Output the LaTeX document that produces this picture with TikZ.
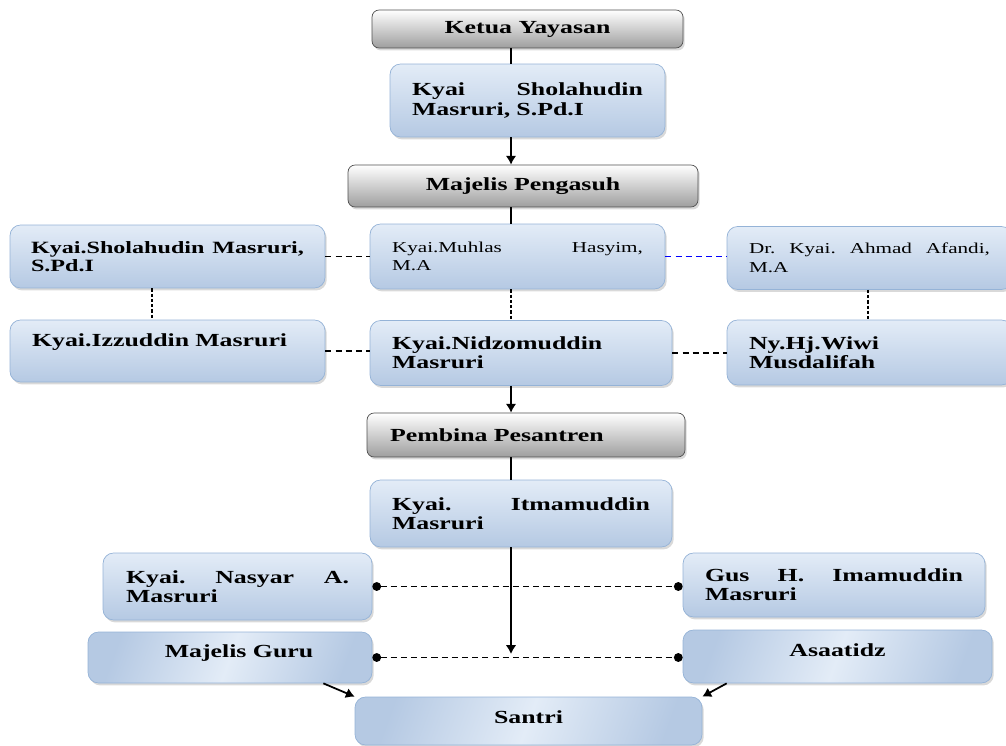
\documentclass[tikz,border=0pt]{standalone}
\usepackage{fontspec}
\newfontfamily\boxfont[FakeStretch=1.4]{Liberation Serif}
\usetikzlibrary{arrows.meta,shadows}
\definecolor{boxline}{HTML}{95B3D7}
\definecolor{boxtop}{HTML}{E3ECF7}
\definecolor{boxbot}{HTML}{B5C9E3}
\definecolor{grayline}{HTML}{505050}
\hyphenpenalty=10000

\begin{document}
\begin{tikzpicture}[x=0.02cm,y=-0.02cm,
  shade/.style={drop shadow={shadow xshift=1pt,shadow yshift=-1.4pt,opacity=0.3}},
  head/.style={shade,draw=grayline,rounded corners=4pt,top color=white,bottom color=black!38,
    font=\boxfont\fontsize{10.5}{11}\selectfont\bfseries},
  person/.style={shade,draw=boxline,rounded corners=6pt,top color=boxtop,bottom color=boxbot,
    align=left,inner xsep=0.44cm,font=\boxfont\fontsize{10.5}{11}\selectfont\bfseries},
  group/.style={shade,draw=boxline,rounded corners=6pt,left color=boxbot,right color=boxbot,
    middle color=boxtop,shading angle=70,font=\boxfont\fontsize{10.5}{11}\selectfont\bfseries},
  small/.style={font=\boxfont\fontsize{8.6}{10.5}\selectfont},
  lift/.style={text depth=#1},
  link/.style={line width=1pt},
  arr/.style={line width=1pt,-{Latex[length=5pt,width=6pt]}},
  dashlink/.style={line width=0.8pt,dash pattern=on 3.5pt off 2.3pt},
  dotlink/.style={line width=1.3pt,dash pattern=on 1.8pt off 1.2pt},
  dotend/.style={dashlink,{Circle[length=5pt]}-{Circle[length=5pt]}}]
  \useasboundingbox (0,0) rectangle (1006,746);
  \coordinate (spine) at (511,0);
  \coordinate (lcol)  at (152,0);
  \coordinate (rcol)  at (868,0);

  \node[head,minimum width=6.22cm,minimum height=0.76cm] (ketua) at (527.5,29) {Ketua Yayasan};
  \node[person,text width=4.62cm,minimum height=1.46cm] (sholah) at (527.5,100.5) {Kyai\hfill Sholahudin\\Masruri, S.Pd.I};
  \node[head,minimum width=7cm,minimum height=0.84cm] (pengasuh) at (523,186) {Majelis Pengasuh};

  \node[person,font=\boxfont\fontsize{9.8}{10.5}\selectfont\bfseries,inner xsep=0.42cm,text width=5.46cm,minimum height=1.26cm] (sholal) at (167.5,256.5) {Kyai.Sholahudin\hfill Masruri,\\S.Pd.I};
  \node[person,small,text width=5.02cm,minimum height=1.3cm] (muhlas) at (517.5,256.5) {Kyai.Muhlas\hfill Hasyim,\\M.A};
  \node[person,small,text width=4.82cm,minimum height=1.26cm] (afandi) at (869.5,258) {Dr.\hfill Kyai.\hfill Ahmad\hfill Afandi,\\M.A};
  \node[person,lift=12pt,text width=5.42cm,minimum height=1.24cm] (izzud) at (167.5,351) {Kyai.Izzuddin Masruri};
  \node[person,text width=5.16cm,minimum height=1.3cm] (nidzom) at (521,353) {Kyai.Nidzomuddin\\Masruri};
  \node[person,text width=4.82cm,minimum height=1.3cm] (wiwi) at (869.5,352.5) {Ny.Hj.Wiwi\\Musdalifah};

  \node[head,align=left,inner xsep=0.46cm,text width=5.44cm,minimum height=0.88cm] (pembina) at (526,435) {Pembina Pesantren};
  \node[person,text width=5.16cm,minimum height=1.34cm] (itmam) at (521,513.5) {Kyai.\hfill Itmamuddin\\Masruri};
  \node[person,inner xsep=0.46cm,text width=4.46cm,minimum height=1.34cm] (nasyar) at (237.5,586.5) {Kyai.\hfill Nasyar\hfill A.\\Masruri};
  \node[person,text width=5.16cm,minimum height=1.28cm] (gus) at (834,585) {Gus\hfill H.\hfill Imamuddin\\Masruri};
  \node[group,lift=7pt,minimum width=5.68cm,minimum height=1.02cm] (mguru) at (230,657.5) {\hspace{0.36cm}Majelis Guru};
  \node[group,lift=7pt,minimum width=6.18cm,minimum height=1.06cm] (asaatidz) at (837.5,656.5) {Asaatidz\hspace{0.48cm}};
  \node[group,lift=5pt,minimum width=6.94cm,minimum height=0.96cm] (santri) at (528.5,721) {Santri\hspace{1.12cm}};

  \draw[link] (ketua.south -| spine) -- (sholah.north -| spine);
  \draw[arr] (sholah.south -| spine) -- (pengasuh.north -| spine);
  \draw[link] (pengasuh.south -| spine) -- (muhlas.north -| spine);
  \draw[dashlink] (sholal.east) -- (muhlas.west);
  \draw[dashlink,blue] (muhlas.east) -- (muhlas.east -| afandi.west);
  \draw[dotlink] (sholal.south -| lcol) -- (izzud.north -| lcol);
  \draw[dotlink] (muhlas.south -| spine) -- (nidzom.north -| spine);
  \draw[dotlink] (afandi.south -| rcol) -- (wiwi.north -| rcol);
  \draw[dashlink] (izzud.east) -- (izzud.east -| nidzom.west);
  \draw[dashlink] (nidzom.east) -- (nidzom.east -| wiwi.west);
  \draw[arr] (nidzom.south -| spine) -- (pembina.north -| spine);
  \draw[link] (pembina.south -| spine) -- (itmam.north -| spine);
  \draw[dotend] (nasyar.east) -- (nasyar.east -| gus.west);
  \draw[dotend] (mguru.east) -- (mguru.east -| asaatidz.west);
  \draw[arr,shorten >=2pt] (itmam.south -| spine) -- (spine |- mguru.east);
  \draw[arr] ([xshift=-0.98cm]mguru.south east) -- (santri.north west);
  \draw[arr] ([xshift=0.88cm]asaatidz.south west) -- (santri.north east);
\end{tikzpicture}
\end{document}
